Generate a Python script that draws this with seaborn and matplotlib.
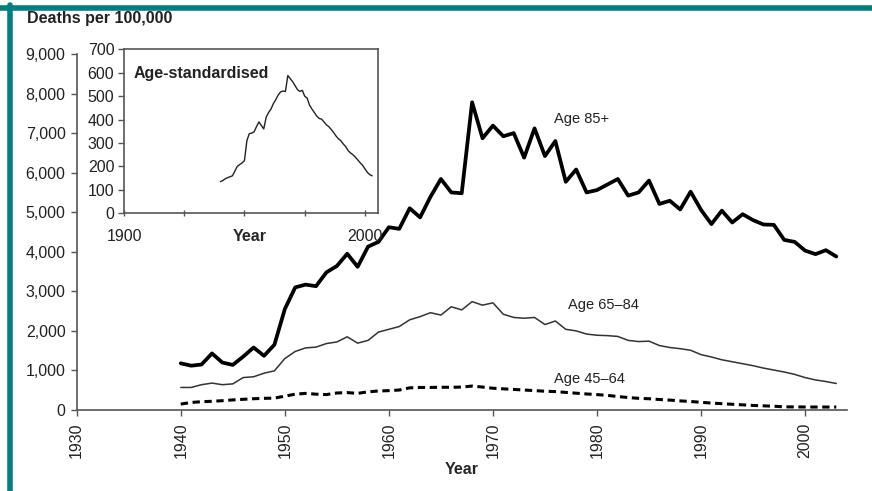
"""
plot.py

Death rates per 100,000 by age group, 1940-2003, with an age-standardised inset.
"""

import matplotlib
matplotlib.use("Agg")
import matplotlib.pyplot as plt
from matplotlib.lines import Line2D
import seaborn as sns
import numpy as np
import pandas as pd

# Datos
years = np.arange(1940, 2004)

age_85_plus = [
    1180, 1120, 1150, 1430, 1200, 1140, 1350, 1580, 1370, 1650,
    2550, 3100, 3170, 3130, 3480, 3640, 3950, 3620, 4130, 4250,
    4620, 4580, 5100, 4870, 5390, 5840, 5500, 5480, 7780, 6870,
    7190, 6920, 7000, 6380, 7120, 6420, 6800, 5770, 6080, 5500,
    5560, 5700, 5840, 5420, 5500, 5800, 5210, 5290, 5070, 5520,
    5060, 4700, 5040, 4740, 4950, 4800, 4690, 4680, 4300, 4250,
    4030, 3940, 4040, 3880,
]

age_65_84 = [
    570, 570, 640, 680, 640, 660, 820, 840, 930, 990,
    1300, 1480, 1570, 1590, 1680, 1720, 1850, 1690, 1760, 1970,
    2040, 2110, 2280, 2360, 2460, 2400, 2610, 2530, 2740, 2650,
    2710, 2420, 2340, 2320, 2340, 2160, 2250, 2040, 2000, 1920,
    1890, 1880, 1860, 1760, 1730, 1740, 1630, 1580, 1550, 1510,
    1400, 1340, 1270, 1220, 1170, 1120, 1060, 1010, 960, 900,
    820, 760, 720, 670,
]

age_45_64 = [
    150, 190, 210, 220, 235, 255, 270, 285, 295, 300,
    350, 400, 420, 400, 390, 430, 440, 420, 460, 480,
    490, 505, 560, 570, 570, 575, 575, 580, 605, 580,
    550, 535, 520, 505, 490, 475, 465, 445, 425, 405,
    390, 370, 340, 315, 295, 285, 265, 250, 230, 215,
    195, 175, 160, 145, 130, 115, 105, 95, 80, 78,
    76, 75, 75, 75,
]

age_standardised = [
    135, 140, 147, 152, 156, 160, 180, 200, 208, 215,
    225, 310, 340, 342, 348, 370, 390, 375, 360, 410,
    430, 445, 468, 485, 505, 518, 522, 520, 588, 575,
    562, 545, 528, 520, 525, 500, 492, 462, 445, 430,
    415, 405, 402, 390, 378, 370, 358, 345, 330, 318,
    310, 296, 285, 268, 258, 250, 240, 228, 216, 205,
    190, 175, 165, 160,
]

main_xticks = [1930, 1940, 1950, 1960, 1970, 1980, 1990, 2000]
main_yticks = [0, 1000, 2000, 3000, 4000, 5000, 6000, 7000, 8000, 9000]
inset_xticks = [1900, 1925, 1950, 1975, 2000]
inset_xticklabels = ["1900", "", "", "", "2000"]
inset_yticks = [0, 100, 200, 300, 400, 500, 600, 700]

df = pd.DataFrame({
    "Year": years,
    "Age 85+": age_85_plus,
    "Age 65–84": age_65_84,
    "Age 45–64": age_45_64,
    "Age-standardised": age_standardised,
})

# Estilo
sns.set_theme(style="white")
plt.rcParams["font.family"] = ["Liberation Sans", "DejaVu Sans"]
plt.rcParams["text.color"] = "#222222"
plt.rcParams["xtick.color"] = "#555555"
plt.rcParams["ytick.color"] = "#555555"
plt.rcParams["xtick.labelcolor"] = "#222222"
plt.rcParams["ytick.labelcolor"] = "#222222"
plt.rcParams["lines.solid_joinstyle"] = "round"
plt.rcParams["lines.solid_capstyle"] = "round"

W, H = 872, 491
fig = plt.figure(figsize=(W / 100, H / 100), dpi=100)

# Grafico principal
ax = fig.add_axes([76.7 / W, 81 / H, 770 / W, 356 / H])
sns.lineplot(data=df, x="Year", y="Age 85+", ax=ax, color="black", linewidth=2.7)
sns.lineplot(data=df, x="Year", y="Age 65–84", ax=ax, color="#333333", linewidth=1.1)
sns.lineplot(data=df, x="Year", y="Age 45–64", ax=ax, color="black", linewidth=2.2,
             dashes=False)
ax.lines[-1].set_dashes([2.4, 1.5])

ax.set_xlim(1930, 2004)
ax.set_ylim(0, 9000)
ax.set_xticks(main_xticks)
ax.set_yticks(main_yticks)
ax.set_yticklabels([f"{v:,}" for v in main_yticks])
ax.tick_params(axis="x", rotation=90, direction="out", length=4, width=1,
               pad=5, labelsize=11.5, bottom=True)
ax.tick_params(axis="y", direction="out", length=4, width=1, pad=4,
               labelsize=11.5, left=True)
for side in ["top", "right"]:
    ax.spines[side].set_visible(False)
for side in ["left", "bottom"]:
    ax.spines[side].set_color("#555555")
    ax.spines[side].set_linewidth(1.2)
ax.set_ylabel("")
ax.set_xlabel("Year", fontsize=11.5, fontweight="bold")
ax.xaxis.set_label_coords(0.5, -0.145)
ax.patch.set_alpha(0)

ax.text(1975.9, 7350, "Age 85+", fontsize=10.5, ha="left", va="center")
ax.text(1977.2, 2650, "Age 65–84", fontsize=10.5, ha="left", va="center")
ax.text(1975.9, 790, "Age 45–64", fontsize=10.5, ha="left", va="center")

fig.text(27 / W, 1 - 19 / H, "Deaths per 100,000", fontsize=11.5,
         fontweight="bold", ha="left", va="center")

# Grafico insertado
ax_in = fig.add_axes([124 / W, (H - 213.3) / H, 253.7 / W, 164 / H])
ax_in.set_facecolor("white")
sns.lineplot(data=df, x="Year", y="Age-standardised", ax=ax_in,
             color="#222222", linewidth=1.0)
ax_in.set_xlim(1900, 2005.3)
ax_in.set_ylim(0, 700)
ax_in.set_xticks(inset_xticks)
ax_in.set_xticklabels(inset_xticklabels)
ax_in.set_yticks(inset_yticks)
ax_in.tick_params(axis="x", direction="inout", length=5, width=1, pad=9,
                  labelsize=11.5, bottom=True)
ax_in.tick_params(axis="y", direction="out", length=4, width=1, pad=3,
                  labelsize=11.5, left=True)
for side in ax_in.spines.values():
    side.set_color("#555555")
    side.set_linewidth(1.2)
ax_in.set_ylabel("")
ax_in.set_xlabel("Year", fontsize=11.5, fontweight="bold")
ax_in.xaxis.set_label_coords(0.497, -0.095)
ax_in.text(0.037, 0.854, "Age-standardised", transform=ax_in.transAxes,
           fontsize=11.5, fontweight="bold", ha="left", va="center")

# Marco verde azulado
teal = "#007f7f"
fig.add_artist(Line2D([0, 1], [1 - 7.5 / H, 1 - 7.5 / H], color=teal,
                      linewidth=4.0, transform=fig.transFigure))
fig.add_artist(Line2D([9.8 / W, 9.8 / W], [0, 1 - 5 / H], color=teal,
                      linewidth=4.0, transform=fig.transFigure))

fig.savefig("out.png", dpi=100)
